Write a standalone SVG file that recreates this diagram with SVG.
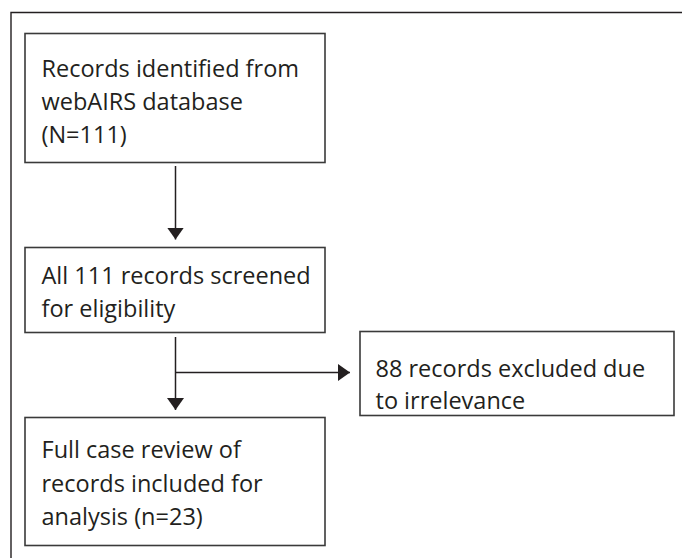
<svg xmlns="http://www.w3.org/2000/svg" width="682" height="558" viewBox="0 0 682 558">
<defs>
<style>
.box{fill:#fff;stroke:#3a3a3a;stroke-width:1.6}
.t{font-family:"Open Sans","Liberation Sans",sans-serif;font-size:23.5px;fill:#231f20}
.c{stroke:#231f20;stroke-width:1.5;fill:none}
</style>
<marker id="ah" markerWidth="14" markerHeight="18" refX="12" refY="8.5" orient="auto" markerUnits="userSpaceOnUse">
<path d="M0,0 L12,8.5 L0,17 Z" fill="#231f20"/>
</marker>
</defs>
<rect width="682" height="558" fill="#fff"/>
<path id="frame" d="M11,558 V12.5 H682" fill="none" stroke="#231f20" stroke-width="1.4"/>
<g id="n1">
<rect class="box" x="25" y="33.5" width="300" height="129"/>
<text class="t" x="41.5" y="77">Records identified from</text>
<text class="t" x="41.5" y="110">webAIRS database</text>
<text class="t" x="41.5" y="143">(N=111)</text>
</g>
<g id="n2">
<rect class="box" x="25" y="247.5" width="300" height="85"/>
<text class="t" x="41.5" y="284">All 111 records screened</text>
<text class="t" x="41.5" y="317">for eligibility</text>
</g>
<g id="n3">
<rect class="box" x="360" y="331.5" width="314" height="84"/>
<text class="t" x="375.5" y="377">88 records excluded due</text>
<text class="t" x="375.5" y="409">to irrelevance</text>
</g>
<g id="n4">
<rect class="box" x="25" y="417.5" width="300" height="128"/>
<text class="t" x="41.5" y="458">Full case review of</text>
<text class="t" x="41.5" y="492">records included for</text>
<text class="t" x="41.5" y="525">analysis (n=23)</text>
</g>
<g id="connectors">
<line class="c" x1="175.5" y1="166" x2="175.5" y2="239.5" marker-end="url(#ah)"/>
<line class="c" x1="175.5" y1="337" x2="175.5" y2="410" marker-end="url(#ah)"/>
<line class="c" x1="175.5" y1="372.5" x2="350" y2="372.5" marker-end="url(#ah)"/>
</g>
</svg>
